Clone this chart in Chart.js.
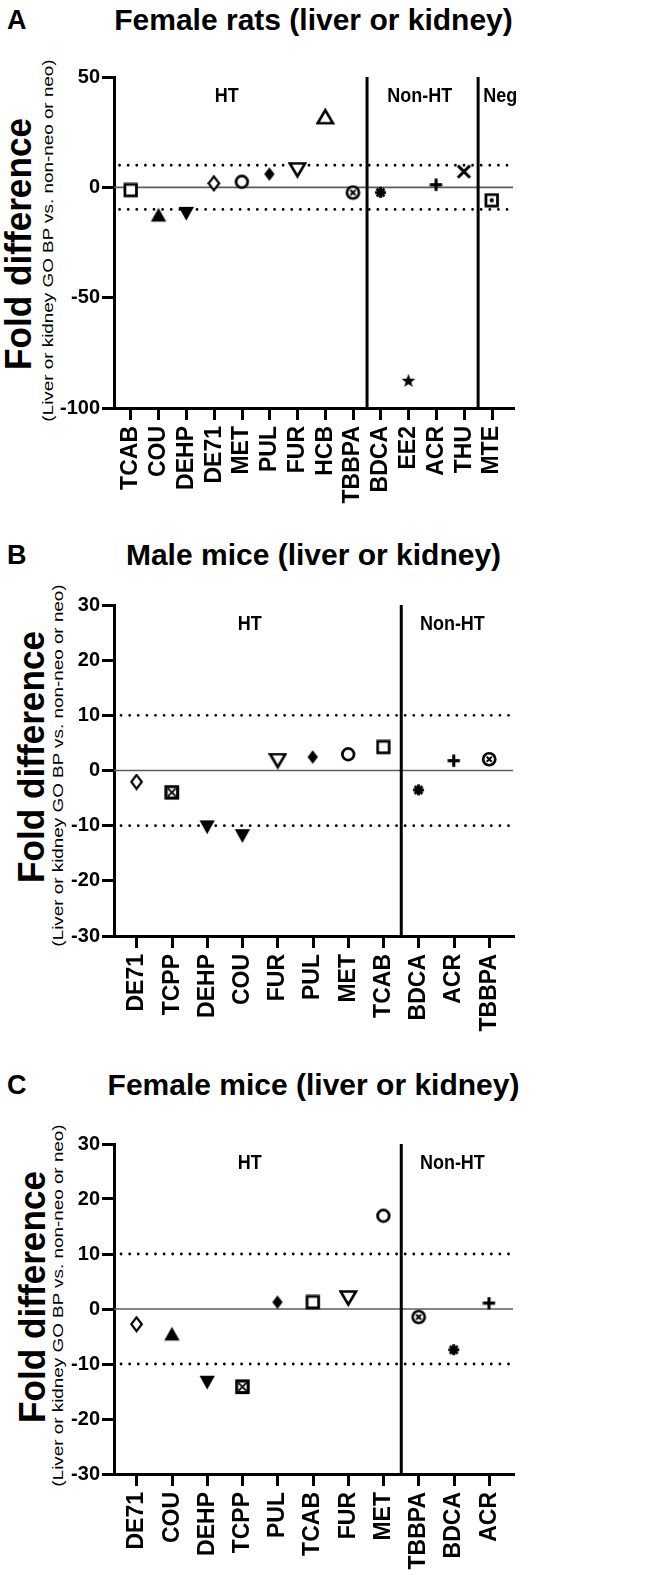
<!DOCTYPE html>
<html><head><meta charset="utf-8">
<script src="https://cdn.jsdelivr.net/npm/chart.js@4.4.1/dist/chart.umd.min.js"></script>
<style>
html,body{margin:0;padding:0;background:#fff;}
body{width:648px;height:1582px;position:relative;overflow:hidden;font-family:"Liberation Sans",Arial,sans-serif;color:#000;}
.abs{position:absolute;white-space:nowrap;line-height:1;}
.letter{font-weight:bold;font-size:27px;}
.title{font-weight:bold;font-size:30px;transform:translateX(-50%);}
.rot{transform-origin:center center;}
.ytitle{font-weight:bold;font-size:36px;}
.ysub{font-size:15px;}
canvas{position:absolute;left:0;}
</style></head><body>

<div class="abs letter" style="left:7px;top:7px">A</div>
<div class="abs title" style="left:313.5px;top:4.6px">Female rats (liver or kidney)</div>
<div class="abs letter" style="left:7px;top:542px">B</div>
<div class="abs title" style="left:313.5px;top:539.6px">Male mice (liver or kidney)</div>
<div class="abs letter" style="left:7px;top:1072px">C</div>
<div class="abs title" style="left:313.5px;top:1069.6px">Female mice (liver or kidney)</div>

<div class="abs ytitle rot" data-cx="19" data-cy="244" data-len="252">Fold difference</div>
<div class="abs ysub rot" data-cx="47" data-cy="240" data-len="362">(Liver or kidney GO BP vs. non-neo or neo)</div>
<div class="abs ytitle rot" data-cx="32" data-cy="757" data-len="252">Fold difference</div>
<div class="abs ysub rot" data-cx="57" data-cy="765" data-len="362">(Liver or kidney GO BP vs. non-neo or neo)</div>
<div class="abs ytitle rot" data-cx="33" data-cy="1297" data-len="252">Fold difference</div>
<div class="abs ysub rot" data-cx="57" data-cy="1305" data-len="362">(Liver or kidney GO BP vs. non-neo or neo)</div>

<canvas id="chartA" width="648" height="480" style="top:40px;width:648px;height:480px"></canvas>
<canvas id="chartB" width="648" height="480" style="top:580px;width:648px;height:480px"></canvas>
<canvas id="chartC" width="648" height="472" style="top:1110px;width:648px;height:472px"></canvas>

<script>
// ---------------- DATA ----------------
const ratF_categories = ['TCAB','COU','DEHP','DE71','MET','PUL','FUR','HCB','TBBPA','BDCA','EE2','ACR','THU','MTE'];
const ratF_values     = [-1.4, -12.7, -12, 1.7, 2.4, 5.9, 7.7, 32, -2.5, -2.5, -87.7, 1, 7, -6];
const ratF_groups     = ['HT','Non-HT','Neg'];
const ratF_groupAt    = [3.45, 10.4, 13.3];
const ratF_dividers   = [8.5, 12.5];
const ratF_yTicks     = [-100, -50, 0, 50];

const mouseM_categories = ['DE71','TCPP','DEHP','COU','FUR','PUL','MET','TCAB','BDCA','ACR','TBBPA'];
const mouseM_values     = [-2.1, -4.0, -10.3, -11.9, 1.7, 2.4, 2.9, 4.2, -3.6, 1.7, 2.0];
const mouseM_groups     = ['HT','Non-HT'];
const mouseM_groupAt    = [3.2, 8.95];
const mouseM_dividers   = [7.5];
const mouseM_yTicks     = [-30, -20, -10, 0, 10, 20, 30];

const mouseF_categories = ['DE71','COU','DEHP','TCPP','PUL','TCAB','FUR','MET','TBBPA','BDCA','ACR'];
const mouseF_values     = [-2.8, -4.6, -13.4, -14.2, 1.2, 1.2, 1.9, 16.9, -1.5, -7.5, 1.0];
const mouseF_groups     = ['HT','Non-HT'];
const mouseF_groupAt    = [3.2, 8.95];
const mouseF_dividers   = [7.5];
const mouseF_yTicks     = [-30, -20, -10, 0, 10, 20, 30];

const thresholdLines = [10, -10];

// marker shape per point (style)
const ratF_markers   = ['sqOpen','triUp','triDown','diaOpen','circOpen','diaFill','triDownOpen','triUpOpen','circX','burst','star5','plus','cross','sqDot'];
const mouseM_markers = ['diaOpen','sqX','triDown','triDown','triDownOpen','diaFill','circOpen','sqOpen','burst','plus','circX'];
const mouseF_markers = ['diaOpen','triUp','triDown','sqX','diaFill','sqOpen','triDownOpen','circOpen','circX','burst','plus'];

// ---------------- TEXT LAYOUT ----------------
document.querySelectorAll('.rot').forEach(el => {
  const w = el.offsetWidth, h = el.offsetHeight;
  const s = (+el.dataset.len) / w;
  el.style.left = (el.dataset.cx - w / 2) + 'px';
  el.style.top = (el.dataset.cy - h / 2) + 'px';
  el.style.transform = 'rotate(-90deg) scale(' + s + ',1)';
});

// ---------------- MARKERS ----------------
const MS = 1.1;
function mk(w, h, draw) {
  const c = document.createElement('canvas');
  c.width = Math.ceil(w * MS); c.height = Math.ceil(h * MS);
  const g = c.getContext('2d');
  g.scale(MS, MS);
  g.strokeStyle = '#000'; g.fillStyle = '#000'; g.lineJoin = 'miter';
  draw(g, w, h);
  return c;
}
function poly(g, pts) { g.beginPath(); g.moveTo(pts[0][0], pts[0][1]); for (let i = 1; i < pts.length; i++) g.lineTo(pts[i][0], pts[i][1]); g.closePath(); }
const MARK = {
  sqOpen: mk(14, 14, g => { g.fillStyle = '#fff'; g.fillRect(2, 2, 10, 10); g.lineWidth = 2.5; g.strokeRect(1.75, 1.75, 10.5, 10.5); }),
  sqDot: mk(14, 14, g => { g.fillStyle = '#fff'; g.fillRect(2, 2, 10, 10); g.lineWidth = 2.5; g.strokeRect(1.75, 1.75, 10.5, 10.5); g.fillStyle = '#000'; g.beginPath(); g.arc(7, 7, 1.9, 0, 7); g.fill(); }),
  sqX: mk(14, 14, g => { g.fillStyle = '#fff'; g.fillRect(2, 2, 10, 10); g.lineWidth = 2.8; g.strokeRect(1.75, 1.75, 10.5, 10.5); g.lineWidth = 1.6; g.beginPath(); g.moveTo(3.5, 3.5); g.lineTo(10.5, 10.5); g.moveTo(10.5, 3.5); g.lineTo(3.5, 10.5); g.stroke(); }),
  triUp: mk(15, 14, g => { poly(g, [[7.5, 0.5], [14.5, 13], [0.5, 13]]); g.fill(); }),
  triDown: mk(15, 14, g => { poly(g, [[0.5, 1], [14.5, 1], [7.5, 13.5]]); g.fill(); }),
  triUpOpen: mk(17, 15, g => { poly(g, [[8.5, 1.8], [15.5, 13.6], [1.5, 13.6]]); g.fillStyle = '#fff'; g.fill(); g.lineWidth = 2.4; g.stroke(); }),
  triDownOpen: mk(17, 15, g => { poly(g, [[1.5, 1.4], [15.5, 1.4], [8.5, 13.2]]); g.fillStyle = '#fff'; g.fill(); g.lineWidth = 2.4; g.stroke(); }),
  diaOpen: mk(12, 15, g => { poly(g, [[6, 1.2], [10.8, 7.5], [6, 13.8], [1.2, 7.5]]); g.fillStyle = '#fff'; g.fill(); g.lineWidth = 2; g.stroke(); }),
  diaFill: mk(11, 14, g => { poly(g, [[5.5, 0.8], [10.2, 7], [5.5, 13.2], [0.8, 7]]); g.fill(); }),
  circOpen: mk(15, 15, g => { g.beginPath(); g.arc(7.5, 7.5, 5.3, 0, 7); g.fillStyle = '#fff'; g.fill(); g.lineWidth = 2.5; g.stroke(); }),
  circX: mk(15, 15, g => { g.beginPath(); g.arc(7.5, 7.5, 5.5, 0, 7); g.fillStyle = '#fff'; g.fill(); g.lineWidth = 2.4; g.stroke(); g.lineWidth = 1.7; g.beginPath(); g.moveTo(5.2, 5.2); g.lineTo(9.8, 9.8); g.moveTo(9.8, 5.2); g.lineTo(5.2, 9.8); g.stroke(); }),
  burst: mk(12, 12, g => { g.lineWidth = 2.6; g.beginPath(); for (let k = 0; k < 4; k++) { const a = k * Math.PI / 4; g.moveTo(6 - 5 * Math.cos(a), 6 - 5 * Math.sin(a)); g.lineTo(6 + 5 * Math.cos(a), 6 + 5 * Math.sin(a)); } g.stroke(); g.beginPath(); g.arc(6, 6, 3, 0, 7); g.fill(); }),
  star5: mk(14, 14, g => { g.beginPath(); for (let k = 0; k < 10; k++) { const r = k % 2 ? 2.7 : 6.6; const a = -Math.PI / 2 + k * Math.PI / 5; const px = 7 + r * Math.cos(a), py = 7.5 + r * Math.sin(a); k ? g.lineTo(px, py) : g.moveTo(px, py); } g.closePath(); g.fill(); }),
  plus: mk(12, 12, g => { g.lineWidth = 2.8; g.beginPath(); g.moveTo(0.5, 6); g.lineTo(11.5, 6); g.moveTo(6, 0.5); g.lineTo(6, 11.5); g.stroke(); }),
  cross: mk(14, 14, g => { g.lineWidth = 2.8; g.beginPath(); g.moveTo(1.5, 1.5); g.lineTo(12.5, 12.5); g.moveTo(12.5, 1.5); g.lineTo(1.5, 12.5); g.stroke(); })
};

// ---------------- CHARTS ----------------
const FONT = '"Liberation Sans", Arial, sans-serif';

const groupLabelPlugin = {
  id: 'groupLabels',
  afterDatasetsDraw(chart, args, opts) {
    const { ctx, chartArea, scales: { x } } = chart;
    ctx.save();
    ctx.font = 'bold 18px ' + FONT;
    ctx.fillStyle = '#000';
    ctx.textAlign = 'center';
    ctx.textBaseline = 'alphabetic';
    opts.labels.forEach((t, i) => {
      const px = x.getPixelForValue(opts.at[i]);
      const py = chartArea.top + opts.offset;
      ctx.save(); ctx.translate(px, py); ctx.scale(1, 1.15); ctx.fillText(t, 0, 6.45); ctx.restore();
    });
    ctx.restore();
  }
};

function makeChart(id, cfg) {
  const datasets = [];
  datasets.push({
    data: cfg.values.map((v, i) => ({ x: i, y: v })),
    pointStyle: cfg.markers.map(m => MARK[m]),
    pointRadius: 6, pointHoverRadius: 6, showLine: false, order: 0
  });
  datasets.push({
    data: [{ x: cfg.xMin, y: 0 }, { x: cfg.xMax, y: 0 }],
    showLine: true, borderColor: '#5c5c5c', borderWidth: 1.6, pointRadius: 0, order: 4
  });
  thresholdLines.forEach(t => datasets.push({
    data: [{ x: cfg.xMin + 0.2, y: t }, { x: cfg.xMax, y: t }],
    showLine: true, borderColor: '#000', borderWidth: 2.8, borderDash: [0.01, 8.6], borderCapStyle: 'round',
    pointRadius: 0, order: 3
  }));
  cfg.dividers.forEach(d => datasets.push({
    data: [{ x: d, y: cfg.yMin }, { x: d, y: cfg.yMax }],
    showLine: true, borderColor: '#000', borderWidth: 3, pointRadius: 0, order: 2
  }));

  return new Chart(document.getElementById(id), {
    type: 'scatter',
    data: { datasets },
    plugins: [groupLabelPlugin],
    options: {
      responsive: false, animation: false, events: [],
      layout: { padding: { top: cfg.padTop, right: 135, left: 0, bottom: 0 } },
      plugins: {
        legend: { display: false }, tooltip: { enabled: false },
        groupLabels: { labels: cfg.groups, at: cfg.groupAt, offset: 18 }
      },
      scales: {
        x: {
          type: 'linear', min: cfg.xMin, max: cfg.xMax,
          afterBuildTicks: s => { s.ticks = cfg.categories.map((c, i) => ({ value: i })); },
          afterFit: s => { s.height = cfg.xAxisH; },
          ticks: {
            autoSkip: false, maxRotation: 90, minRotation: 90, padding: 6, color: '#000',
            font: { family: FONT, size: 23, weight: 'bold' },
            callback: v => cfg.categories[v]
          },
          grid: { drawOnChartArea: false, drawTicks: true, tickLength: 12, lineWidth: 3, color: '#000' },
          border: { display: true, width: 3, color: '#000' }
        },
        y: {
          type: 'linear', min: cfg.yMin, max: cfg.yMax,
          afterBuildTicks: s => { s.ticks = cfg.yTicks.map(v => ({ value: v })); },
          afterFit: s => { s.width = 114; },
          ticks: { padding: 2, color: '#000', font: { family: FONT, size: 20, weight: 'bold' } },
          grid: { drawOnChartArea: false, drawTicks: true, tickLength: 12, lineWidth: 3, color: '#000' },
          border: { display: true, width: 3, color: '#000' }
        }
      }
    }
  });
}

makeChart('chartA', {
  categories: ratF_categories, values: ratF_values, markers: ratF_markers,
  groups: ratF_groups, groupAt: ratF_groupAt, dividers: ratF_dividers, yTicks: ratF_yTicks,
  yMin: -100, yMax: 50, xMin: -0.612, xMax: 13.756, padTop: 37, xAxisH: 112
});
makeChart('chartB', {
  categories: mouseM_categories, values: mouseM_values, markers: mouseM_markers,
  groups: mouseM_groups, groupAt: mouseM_groupAt, dividers: mouseM_dividers, yTicks: mouseM_yTicks,
  yMin: -30, yMax: 30, xMin: -0.65, xMax: 10.67, padTop: 25, xAxisH: 124
});
makeChart('chartC', {
  categories: mouseF_categories, values: mouseF_values, markers: mouseF_markers,
  groups: mouseF_groups, groupAt: mouseF_groupAt, dividers: mouseF_dividers, yTicks: mouseF_yTicks,
  yMin: -30, yMax: 30, xMin: -0.65, xMax: 10.67, padTop: 34, xAxisH: 108
});
</script>
</body></html>
